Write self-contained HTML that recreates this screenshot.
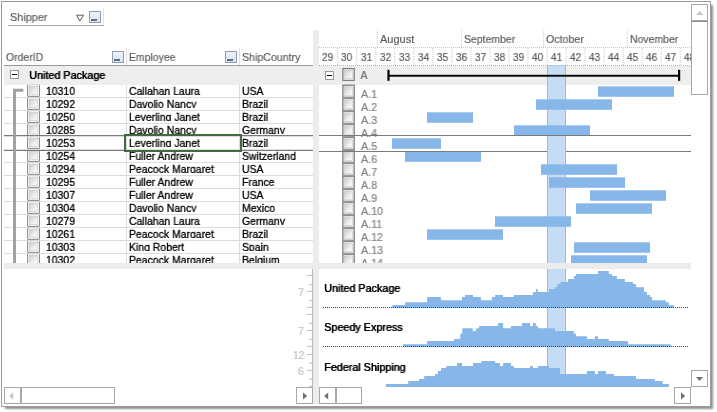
<!DOCTYPE html>
<html><head><meta charset="utf-8"><title>gantt</title>
<style>
html,body{margin:0;padding:0;background:#fff;}
body{width:717px;height:412px;overflow:hidden;position:relative;font-family:"Liberation Sans",sans-serif;font-size:11px;color:#000;}
.a{position:absolute;}
.t{position:absolute;white-space:nowrap;line-height:13px;transform-origin:0 0;transform:scaleX(.95);will-change:transform;}
.h{color:#5e5e5e;-webkit-text-stroke:0.2px #5e5e5e;}
.cb{position:absolute;width:10px;height:10px;border:1px solid #a9a9a9;background:linear-gradient(135deg,#d4d6d8 0%,#f4f4f4 70%,#fff 100%);box-shadow:inset 0 0 0 1px #f7f7f7;}
.cb2{position:absolute;width:11px;height:11px;border:1px solid #8b8b8b;background:linear-gradient(135deg,#d0d3d6 0%,#f2f2f2 70%,#fff 100%);box-shadow:inset 0 0 0 1px #f4f4f4;}
.fb{position:absolute;width:10px;height:10px;border:1px solid #919dac;background:linear-gradient(#ecf3fb,#d6e4f3);}
.fb i{position:absolute;left:1px;top:7px;width:6px;height:2px;background:#5d6f84;}
.sb{position:absolute;box-sizing:border-box;border:1px solid #a8a8a8;background:#fff;}
.cell{position:absolute;overflow:hidden;height:10px;}
.cell .t{top:0px;left:0;-webkit-text-stroke:0.3px #000;}
.fbold{transform:scaleX(.98);text-shadow:0.45px 0 0 #000,0 0 1px rgba(0,0,0,.3);}
.sep{position:absolute;height:1px;background:#dcdcdc;}
.bx{position:absolute;width:7px;height:7px;border:1px solid #979797;background:#fff;}
.bx i{position:absolute;left:1px;top:3px;width:5px;height:1px;background:#000;}
</style></head><body>

<div class="a" style="left:1px;top:1px;width:708px;height:404px;border:1px solid #9c9c9c;box-shadow:3px 3px 2px -1px rgba(0,0,0,.44);background:#fff"></div>
<div class="a" style="left:8px;top:25px;width:96px;height:1px;background:#a6a6a6"></div>
<div class="a" style="left:103px;top:8px;width:1px;height:17px;background:#e2e2e2"></div>
<div class="t h" style="left:10.4px;top:10.5px;transform:scaleX(.985)">Shipper</div>
<svg class="a" style="left:75px;top:13px" width="11" height="10"><path d="M1.6 2.2 H8.7 L4.8 8 Z" fill="none" stroke="#5a5a5a" stroke-width="1"/></svg>
<div class="fb" style="left:89px;top:11px"><i></i></div>
<div class="t h" style="left:6.4px;top:51px">OrderID</div>
<div class="fb" style="left:112px;top:51px"><i></i></div>
<div class="a" style="left:126px;top:48px;width:1px;height:17px;background:#dedede"></div>
<div class="t h" style="left:129.3px;top:51px">Employee</div>
<div class="fb" style="left:225px;top:51px"><i></i></div>
<div class="a" style="left:239px;top:48px;width:1px;height:17px;background:#dedede"></div>
<div class="t h" style="left:242.3px;top:51px;transform:scaleX(.965)">ShipCountry</div>
<div class="a" style="left:4px;top:65px;width:309px;height:1px;background:#9a9a9a"></div>
<div class="a" style="left:4px;top:66px;width:687px;height:19px;background:#eeeeee"></div>
<div class="sep" style="left:4px;top:97px;width:309px"></div>
<div class="cell" style="left:46px;top:85px;width:78px"><div class="t">10310</div></div>
<div class="cell" style="left:128.7px;top:85px;width:109px"><div class="t">Callahan Laura</div></div>
<div class="cell" style="left:241.7px;top:85px;width:70px"><div class="t">USA</div></div>
<div class="sep" style="left:4px;top:110px;width:309px"></div>
<div class="cell" style="left:46px;top:98px;width:78px"><div class="t">10292</div></div>
<div class="cell" style="left:128.7px;top:98px;width:109px"><div class="t">Davolio Nancy</div></div>
<div class="cell" style="left:241.7px;top:98px;width:70px"><div class="t">Brazil</div></div>
<div class="sep" style="left:4px;top:123px;width:309px"></div>
<div class="cell" style="left:46px;top:111px;width:78px"><div class="t">10250</div></div>
<div class="cell" style="left:128.7px;top:111px;width:109px"><div class="t">Leverling Janet</div></div>
<div class="cell" style="left:241.7px;top:111px;width:70px"><div class="t">Brazil</div></div>
<div class="sep" style="left:4px;top:136px;width:309px"></div>
<div class="cell" style="left:46px;top:124px;width:78px"><div class="t">10285</div></div>
<div class="cell" style="left:128.7px;top:124px;width:109px"><div class="t">Davolio Nancy</div></div>
<div class="cell" style="left:241.7px;top:124px;width:70px"><div class="t">Germany</div></div>
<div class="sep" style="left:4px;top:149px;width:309px"></div>
<div class="cell" style="left:46px;top:137px;width:78px"><div class="t">10253</div></div>
<div class="cell" style="left:128.7px;top:137px;width:109px"><div class="t">Leverling Janet</div></div>
<div class="cell" style="left:241.7px;top:137px;width:70px"><div class="t">Brazil</div></div>
<div class="sep" style="left:4px;top:162px;width:309px"></div>
<div class="cell" style="left:46px;top:150px;width:78px"><div class="t">10254</div></div>
<div class="cell" style="left:128.7px;top:150px;width:109px"><div class="t">Fuller Andrew</div></div>
<div class="cell" style="left:241.7px;top:150px;width:70px"><div class="t">Switzerland</div></div>
<div class="sep" style="left:4px;top:175px;width:309px"></div>
<div class="cell" style="left:46px;top:163px;width:78px"><div class="t">10294</div></div>
<div class="cell" style="left:128.7px;top:163px;width:109px"><div class="t">Peacock Margaret</div></div>
<div class="cell" style="left:241.7px;top:163px;width:70px"><div class="t">USA</div></div>
<div class="sep" style="left:4px;top:188px;width:309px"></div>
<div class="cell" style="left:46px;top:176px;width:78px"><div class="t">10295</div></div>
<div class="cell" style="left:128.7px;top:176px;width:109px"><div class="t">Fuller Andrew</div></div>
<div class="cell" style="left:241.7px;top:176px;width:70px"><div class="t">France</div></div>
<div class="sep" style="left:4px;top:201px;width:309px"></div>
<div class="cell" style="left:46px;top:189px;width:78px"><div class="t">10307</div></div>
<div class="cell" style="left:128.7px;top:189px;width:109px"><div class="t">Fuller Andrew</div></div>
<div class="cell" style="left:241.7px;top:189px;width:70px"><div class="t">USA</div></div>
<div class="sep" style="left:4px;top:214px;width:309px"></div>
<div class="cell" style="left:46px;top:202px;width:78px"><div class="t">10304</div></div>
<div class="cell" style="left:128.7px;top:202px;width:109px"><div class="t">Davolio Nancy</div></div>
<div class="cell" style="left:241.7px;top:202px;width:70px"><div class="t">Mexico</div></div>
<div class="sep" style="left:4px;top:227px;width:309px"></div>
<div class="cell" style="left:46px;top:215px;width:78px"><div class="t">10279</div></div>
<div class="cell" style="left:128.7px;top:215px;width:109px"><div class="t">Callahan Laura</div></div>
<div class="cell" style="left:241.7px;top:215px;width:70px"><div class="t">Germany</div></div>
<div class="sep" style="left:4px;top:240px;width:309px"></div>
<div class="cell" style="left:46px;top:228px;width:78px"><div class="t">10261</div></div>
<div class="cell" style="left:128.7px;top:228px;width:109px"><div class="t">Peacock Margaret</div></div>
<div class="cell" style="left:241.7px;top:228px;width:70px"><div class="t">Brazil</div></div>
<div class="sep" style="left:4px;top:253px;width:309px"></div>
<div class="cell" style="left:46px;top:241px;width:78px"><div class="t">10303</div></div>
<div class="cell" style="left:128.7px;top:241px;width:109px"><div class="t">King Robert</div></div>
<div class="cell" style="left:241.7px;top:241px;width:70px"><div class="t">Spain</div></div>
<div class="sep" style="left:4px;top:266px;width:309px"></div>
<div class="cell" style="left:46px;top:254px;width:78px"><div class="t">10302</div></div>
<div class="cell" style="left:128.7px;top:254px;width:109px"><div class="t">Peacock Margaret</div></div>
<div class="cell" style="left:241.7px;top:254px;width:70px"><div class="t">Belgium</div></div>
<div class="a" style="left:126px;top:85px;width:1px;height:178px;background:#dcdcdc"></div>
<div class="a" style="left:239px;top:85px;width:1px;height:178px;background:#dcdcdc"></div>
<div class="bx" style="left:10px;top:70px"><i></i></div>
<div class="t fbold" style="left:28.8px;top:68.5px;">United Package</div>
<svg class="a" style="left:0;top:0" width="717" height="412" viewBox="0 0 717 412">
<rect x="547" y="65" width="19" height="322" fill="#c6dcf4"/>
<rect x="547" y="65" width="1" height="322" fill="#a4b7d2"/><rect x="565" y="65" width="1" height="322" fill="#a4b7d2"/>
<rect x="598" y="86.3" width="76" height="10.5" fill="#87b7e9"/>
<rect x="536" y="99.3" width="76" height="10.5" fill="#87b7e9"/>
<rect x="427" y="112.3" width="46" height="10.5" fill="#87b7e9"/>
<rect x="514" y="125.3" width="76" height="10.5" fill="#87b7e9"/>
<rect x="392" y="138.3" width="49" height="10.5" fill="#87b7e9"/>
<rect x="405" y="151.3" width="76" height="10.5" fill="#87b7e9"/>
<rect x="541" y="164.3" width="76" height="10.5" fill="#87b7e9"/>
<rect x="549" y="177.3" width="76" height="10.5" fill="#87b7e9"/>
<rect x="590" y="190.3" width="76" height="10.5" fill="#87b7e9"/>
<rect x="576" y="203.3" width="76" height="10.5" fill="#87b7e9"/>
<rect x="495" y="216.3" width="76" height="10.5" fill="#87b7e9"/>
<rect x="427" y="229.3" width="76" height="10.5" fill="#87b7e9"/>
<rect x="574" y="242.3" width="76" height="10.5" fill="#87b7e9"/>
<rect x="571" y="255.3" width="76" height="7.7" fill="#87b7e9"/>
<rect x="388" y="74.8" width="292" height="1.9" fill="#000"/>
<rect x="387.4" y="69.8" width="2.2" height="11" fill="#000"/>
<rect x="678" y="69.8" width="2.2" height="11" fill="#000"/>
<path d="M392.3 308.0 V305.1 H405.1 V302.3 H427.1 V297.1 H440.9 V300.2 H462.0 V297.1 H465.1 V295.0 H473.0 V297.1 H480.9 V300.2 H492.0 V297.1 H495.1 V295.0 H503.0 V297.1 H513.9 V295.0 H533.0 V292.1 H536.1 V289.0 H537.8 V292.1 H549.1 V289.0 H555.1 V286.9 H557.2 V284.1 H560.4 V282.0 H568.1 V279.0 H573.9 V276.0 H576.0 V274.0 H598.1 V271.0 H608.8 V274.0 H611.9 V276.0 H616.9 V279.0 H624.9 V282.0 H633.0 V284.1 H636.0 V287.2 H644.0 V292.1 H647.0 V295.0 H650.0 V297.1 H652.0 V300.2 H665.8 V302.3 H668.9 V305.3 H673.9 V308.0 Z" fill="#87b7e9"/>
<path d="M403.0 347.0 V344.3 H427.1 V341.0 H453.9 V339.0 H460.2 V333.8 H462.3 V328.2 H472.7 V331.0 H476.1 V328.2 H479.1 V326.1 H497.9 V323.1 H503.1 V328.2 H510.9 V326.1 H522.0 V323.1 H530.0 V326.1 H533.0 V323.1 H535.8 V326.1 H537.9 V328.2 H555.1 V331.0 H573.9 V333.8 H576.0 V336.2 H586.9 V339.0 H594.9 V336.2 H597.9 V339.0 H608.8 V341.0 H627.9 V344.3 H670.7 V347.0 Z" fill="#87b7e9"/>
<path d="M386.0 387.0 V383.9 H408.2 V381.1 H419.0 V379.0 H424.2 V376.0 H435.1 V373.9 H437.9 V371.1 H441.1 V368.0 H446.2 V365.9 H457.1 V363.0 H462.0 V365.9 H473.0 V363.0 H481.2 V361.1 H495.1 V363.0 H500.0 V365.9 H503.1 V363.0 H510.9 V365.9 H513.9 V368.0 H530.0 V365.9 H533.0 V368.0 H537.9 V365.9 H549.1 V368.0 H560.0 V373.9 H586.9 V371.1 H594.9 V373.9 H597.9 V371.1 H606.0 V373.9 H614.0 V376.0 H636.0 V379.0 H654.9 V381.1 H662.7 V383.9 H668.9 V387.0 Z" fill="#87b7e9"/>
<line x1="323" y1="307.5" x2="688" y2="307.5" stroke="#a51c1c" stroke-width="1" stroke-dasharray="1 1"/>
<line x1="323" y1="346.5" x2="688" y2="346.5" stroke="#a51c1c" stroke-width="1" stroke-dasharray="1 1"/>
<line x1="319" y1="47.5" x2="691" y2="47.5" stroke="#c9c9c9" stroke-width="1" stroke-dasharray="1 1"/>
<line x1="319" y1="65.5" x2="691" y2="65.5" stroke="#b2b2b2" stroke-width="1" stroke-dasharray="1 1"/>
<line x1="337.7" y1="48" x2="337.7" y2="65" stroke="#c9c9c9" stroke-width="1" stroke-dasharray="1 1"/>
<line x1="356.8" y1="48" x2="356.8" y2="65" stroke="#c9c9c9" stroke-width="1" stroke-dasharray="1 1"/>
<line x1="375.8" y1="48" x2="375.8" y2="65" stroke="#c9c9c9" stroke-width="1" stroke-dasharray="1 1"/>
<line x1="394.8" y1="48" x2="394.8" y2="65" stroke="#c9c9c9" stroke-width="1" stroke-dasharray="1 1"/>
<line x1="413.9" y1="48" x2="413.9" y2="65" stroke="#c9c9c9" stroke-width="1" stroke-dasharray="1 1"/>
<line x1="432.9" y1="48" x2="432.9" y2="65" stroke="#c9c9c9" stroke-width="1" stroke-dasharray="1 1"/>
<line x1="451.9" y1="48" x2="451.9" y2="65" stroke="#c9c9c9" stroke-width="1" stroke-dasharray="1 1"/>
<line x1="470.9" y1="48" x2="470.9" y2="65" stroke="#c9c9c9" stroke-width="1" stroke-dasharray="1 1"/>
<line x1="490.0" y1="48" x2="490.0" y2="65" stroke="#c9c9c9" stroke-width="1" stroke-dasharray="1 1"/>
<line x1="509.0" y1="48" x2="509.0" y2="65" stroke="#c9c9c9" stroke-width="1" stroke-dasharray="1 1"/>
<line x1="528.0" y1="48" x2="528.0" y2="65" stroke="#c9c9c9" stroke-width="1" stroke-dasharray="1 1"/>
<line x1="547.1" y1="48" x2="547.1" y2="65" stroke="#c9c9c9" stroke-width="1" stroke-dasharray="1 1"/>
<line x1="566.1" y1="48" x2="566.1" y2="65" stroke="#c9c9c9" stroke-width="1" stroke-dasharray="1 1"/>
<line x1="585.1" y1="48" x2="585.1" y2="65" stroke="#c9c9c9" stroke-width="1" stroke-dasharray="1 1"/>
<line x1="604.2" y1="48" x2="604.2" y2="65" stroke="#c9c9c9" stroke-width="1" stroke-dasharray="1 1"/>
<line x1="623.2" y1="48" x2="623.2" y2="65" stroke="#c9c9c9" stroke-width="1" stroke-dasharray="1 1"/>
<line x1="642.2" y1="48" x2="642.2" y2="65" stroke="#c9c9c9" stroke-width="1" stroke-dasharray="1 1"/>
<line x1="661.2" y1="48" x2="661.2" y2="65" stroke="#c9c9c9" stroke-width="1" stroke-dasharray="1 1"/>
<line x1="680.3" y1="48" x2="680.3" y2="65" stroke="#c9c9c9" stroke-width="1" stroke-dasharray="1 1"/>
<line x1="377.3" y1="30" x2="377.3" y2="47" stroke="#c9c9c9" stroke-width="1" stroke-dasharray="1 1"/>
<line x1="461.6" y1="30" x2="461.6" y2="47" stroke="#c9c9c9" stroke-width="1" stroke-dasharray="1 1"/>
<line x1="543.6" y1="30" x2="543.6" y2="47" stroke="#c9c9c9" stroke-width="1" stroke-dasharray="1 1"/>
<line x1="627.2" y1="30" x2="627.2" y2="47" stroke="#c9c9c9" stroke-width="1" stroke-dasharray="1 1"/>
<rect x="312" y="269" width="1.3" height="118" fill="#b9b9b9"/>
<rect x="307" y="275.1" width="5" height="1" fill="#bdbdbd"/>
<rect x="309" y="284.2" width="3" height="1" fill="#bdbdbd"/>
<rect x="307" y="290.8" width="5" height="1" fill="#bdbdbd"/>
<rect x="309" y="300" width="3" height="1" fill="#bdbdbd"/>
<rect x="307" y="306.8" width="5" height="1" fill="#bdbdbd"/>
<rect x="307" y="313.9" width="5" height="1" fill="#bdbdbd"/>
<rect x="309" y="322.9" width="3" height="1" fill="#bdbdbd"/>
<rect x="307" y="330" width="5" height="1" fill="#bdbdbd"/>
<rect x="309" y="338.8" width="3" height="1" fill="#bdbdbd"/>
<rect x="307" y="345.8" width="5" height="1" fill="#bdbdbd"/>
<rect x="307" y="353.9" width="5" height="1" fill="#bdbdbd"/>
<rect x="309" y="362.5" width="3" height="1" fill="#bdbdbd"/>
<rect x="307" y="369.8" width="5" height="1" fill="#bdbdbd"/>
<rect x="309" y="378.5" width="3" height="1" fill="#bdbdbd"/>
<rect x="309" y="385.8" width="3" height="1" fill="#bdbdbd"/>
</svg>
<svg class="a" style="left:0;top:0" width="717" height="412" viewBox="0 0 717 412">
<defs><linearGradient id="g" x1="0" y1="0" x2="1" y2="1"><stop offset="0" stop-color="#c6cacf"/><stop offset=".6" stop-color="#eeeff0"/><stop offset="1" stop-color="#fdfdfd"/></linearGradient></defs>
<rect x="27.2" y="84.4" width="12.7" height="12.4" fill="#fff"/>
<path d="M27.65 84.8 V96.35 H39.45 V84.8" fill="none" stroke="#828282" stroke-width="1"/>
<path d="M27.2 84.82 H39.9" fill="none" stroke="#c6c6c6" stroke-width=".85"/>
<rect x="29.3" y="86.4" width="8.5" height="8.2" fill="url(#g)" stroke="#c3c7cb" stroke-width=".6"/>
<rect x="342.3" y="84.6" width="12.5" height="13.3" fill="#fff"/>
<rect x="342.9" y="85.2" width="11.3" height="12.1" fill="none" stroke="#7c7c7c" stroke-width="1.3"/>
<rect x="344.5" y="86.85" width="8.1" height="8.8" fill="url(#g)" stroke="#b9bdc1" stroke-width=".5"/>
<rect x="27.2" y="97.4" width="12.7" height="12.4" fill="#fff"/>
<path d="M27.65 97.8 V109.35 H39.45 V97.8" fill="none" stroke="#828282" stroke-width="1"/>
<path d="M27.2 97.82 H39.9" fill="none" stroke="#c6c6c6" stroke-width=".85"/>
<rect x="29.3" y="99.4" width="8.5" height="8.2" fill="url(#g)" stroke="#c3c7cb" stroke-width=".6"/>
<rect x="342.3" y="97.6" width="12.5" height="13.3" fill="#fff"/>
<rect x="342.9" y="98.2" width="11.3" height="12.1" fill="none" stroke="#7c7c7c" stroke-width="1.3"/>
<rect x="344.5" y="99.85" width="8.1" height="8.8" fill="url(#g)" stroke="#b9bdc1" stroke-width=".5"/>
<rect x="27.2" y="110.4" width="12.7" height="12.4" fill="#fff"/>
<path d="M27.65 110.8 V122.35 H39.45 V110.8" fill="none" stroke="#828282" stroke-width="1"/>
<path d="M27.2 110.82 H39.9" fill="none" stroke="#c6c6c6" stroke-width=".85"/>
<rect x="29.3" y="112.4" width="8.5" height="8.2" fill="url(#g)" stroke="#c3c7cb" stroke-width=".6"/>
<rect x="342.3" y="110.6" width="12.5" height="13.3" fill="#fff"/>
<rect x="342.9" y="111.2" width="11.3" height="12.1" fill="none" stroke="#7c7c7c" stroke-width="1.3"/>
<rect x="344.5" y="112.85" width="8.1" height="8.8" fill="url(#g)" stroke="#b9bdc1" stroke-width=".5"/>
<rect x="27.2" y="123.4" width="12.7" height="12.4" fill="#fff"/>
<path d="M27.65 123.8 V135.35 H39.45 V123.8" fill="none" stroke="#828282" stroke-width="1"/>
<path d="M27.2 123.82 H39.9" fill="none" stroke="#c6c6c6" stroke-width=".85"/>
<rect x="29.3" y="125.4" width="8.5" height="8.2" fill="url(#g)" stroke="#c3c7cb" stroke-width=".6"/>
<rect x="342.3" y="123.6" width="12.5" height="13.3" fill="#fff"/>
<rect x="342.9" y="124.2" width="11.3" height="12.1" fill="none" stroke="#7c7c7c" stroke-width="1.3"/>
<rect x="344.5" y="125.85" width="8.1" height="8.8" fill="url(#g)" stroke="#b9bdc1" stroke-width=".5"/>
<rect x="27.2" y="136.4" width="12.7" height="12.4" fill="#fff"/>
<path d="M27.65 136.8 V148.35 H39.45 V136.8" fill="none" stroke="#828282" stroke-width="1"/>
<path d="M27.2 136.82 H39.9" fill="none" stroke="#c6c6c6" stroke-width=".85"/>
<rect x="29.3" y="138.4" width="8.5" height="8.2" fill="url(#g)" stroke="#c3c7cb" stroke-width=".6"/>
<rect x="342.3" y="136.6" width="12.5" height="13.3" fill="#fff"/>
<rect x="342.9" y="137.2" width="11.3" height="12.1" fill="none" stroke="#7c7c7c" stroke-width="1.3"/>
<rect x="344.5" y="138.85" width="8.1" height="8.8" fill="url(#g)" stroke="#b9bdc1" stroke-width=".5"/>
<rect x="27.2" y="149.4" width="12.7" height="12.4" fill="#fff"/>
<path d="M27.65 149.8 V161.35 H39.45 V149.8" fill="none" stroke="#828282" stroke-width="1"/>
<path d="M27.2 149.82 H39.9" fill="none" stroke="#c6c6c6" stroke-width=".85"/>
<rect x="29.3" y="151.4" width="8.5" height="8.2" fill="url(#g)" stroke="#c3c7cb" stroke-width=".6"/>
<rect x="342.3" y="149.6" width="12.5" height="13.3" fill="#fff"/>
<rect x="342.9" y="150.2" width="11.3" height="12.1" fill="none" stroke="#7c7c7c" stroke-width="1.3"/>
<rect x="344.5" y="151.85" width="8.1" height="8.8" fill="url(#g)" stroke="#b9bdc1" stroke-width=".5"/>
<rect x="27.2" y="162.4" width="12.7" height="12.4" fill="#fff"/>
<path d="M27.65 162.8 V174.35 H39.45 V162.8" fill="none" stroke="#828282" stroke-width="1"/>
<path d="M27.2 162.82 H39.9" fill="none" stroke="#c6c6c6" stroke-width=".85"/>
<rect x="29.3" y="164.4" width="8.5" height="8.2" fill="url(#g)" stroke="#c3c7cb" stroke-width=".6"/>
<rect x="342.3" y="162.6" width="12.5" height="13.3" fill="#fff"/>
<rect x="342.9" y="163.2" width="11.3" height="12.1" fill="none" stroke="#7c7c7c" stroke-width="1.3"/>
<rect x="344.5" y="164.85" width="8.1" height="8.8" fill="url(#g)" stroke="#b9bdc1" stroke-width=".5"/>
<rect x="27.2" y="175.4" width="12.7" height="12.4" fill="#fff"/>
<path d="M27.65 175.8 V187.35 H39.45 V175.8" fill="none" stroke="#828282" stroke-width="1"/>
<path d="M27.2 175.82 H39.9" fill="none" stroke="#c6c6c6" stroke-width=".85"/>
<rect x="29.3" y="177.4" width="8.5" height="8.2" fill="url(#g)" stroke="#c3c7cb" stroke-width=".6"/>
<rect x="342.3" y="175.6" width="12.5" height="13.3" fill="#fff"/>
<rect x="342.9" y="176.2" width="11.3" height="12.1" fill="none" stroke="#7c7c7c" stroke-width="1.3"/>
<rect x="344.5" y="177.85" width="8.1" height="8.8" fill="url(#g)" stroke="#b9bdc1" stroke-width=".5"/>
<rect x="27.2" y="188.4" width="12.7" height="12.4" fill="#fff"/>
<path d="M27.65 188.8 V200.35 H39.45 V188.8" fill="none" stroke="#828282" stroke-width="1"/>
<path d="M27.2 188.82 H39.9" fill="none" stroke="#c6c6c6" stroke-width=".85"/>
<rect x="29.3" y="190.4" width="8.5" height="8.2" fill="url(#g)" stroke="#c3c7cb" stroke-width=".6"/>
<rect x="342.3" y="188.6" width="12.5" height="13.3" fill="#fff"/>
<rect x="342.9" y="189.2" width="11.3" height="12.1" fill="none" stroke="#7c7c7c" stroke-width="1.3"/>
<rect x="344.5" y="190.85" width="8.1" height="8.8" fill="url(#g)" stroke="#b9bdc1" stroke-width=".5"/>
<rect x="27.2" y="201.4" width="12.7" height="12.4" fill="#fff"/>
<path d="M27.65 201.8 V213.35 H39.45 V201.8" fill="none" stroke="#828282" stroke-width="1"/>
<path d="M27.2 201.82 H39.9" fill="none" stroke="#c6c6c6" stroke-width=".85"/>
<rect x="29.3" y="203.4" width="8.5" height="8.2" fill="url(#g)" stroke="#c3c7cb" stroke-width=".6"/>
<rect x="342.3" y="201.6" width="12.5" height="13.3" fill="#fff"/>
<rect x="342.9" y="202.2" width="11.3" height="12.1" fill="none" stroke="#7c7c7c" stroke-width="1.3"/>
<rect x="344.5" y="203.85" width="8.1" height="8.8" fill="url(#g)" stroke="#b9bdc1" stroke-width=".5"/>
<rect x="27.2" y="214.4" width="12.7" height="12.4" fill="#fff"/>
<path d="M27.65 214.8 V226.35 H39.45 V214.8" fill="none" stroke="#828282" stroke-width="1"/>
<path d="M27.2 214.82 H39.9" fill="none" stroke="#c6c6c6" stroke-width=".85"/>
<rect x="29.3" y="216.4" width="8.5" height="8.2" fill="url(#g)" stroke="#c3c7cb" stroke-width=".6"/>
<rect x="342.3" y="214.6" width="12.5" height="13.3" fill="#fff"/>
<rect x="342.9" y="215.2" width="11.3" height="12.1" fill="none" stroke="#7c7c7c" stroke-width="1.3"/>
<rect x="344.5" y="216.85" width="8.1" height="8.8" fill="url(#g)" stroke="#b9bdc1" stroke-width=".5"/>
<rect x="27.2" y="227.4" width="12.7" height="12.4" fill="#fff"/>
<path d="M27.65 227.8 V239.35 H39.45 V227.8" fill="none" stroke="#828282" stroke-width="1"/>
<path d="M27.2 227.82 H39.9" fill="none" stroke="#c6c6c6" stroke-width=".85"/>
<rect x="29.3" y="229.4" width="8.5" height="8.2" fill="url(#g)" stroke="#c3c7cb" stroke-width=".6"/>
<rect x="342.3" y="227.6" width="12.5" height="13.3" fill="#fff"/>
<rect x="342.9" y="228.2" width="11.3" height="12.1" fill="none" stroke="#7c7c7c" stroke-width="1.3"/>
<rect x="344.5" y="229.85" width="8.1" height="8.8" fill="url(#g)" stroke="#b9bdc1" stroke-width=".5"/>
<rect x="27.2" y="240.4" width="12.7" height="12.4" fill="#fff"/>
<path d="M27.65 240.8 V252.35 H39.45 V240.8" fill="none" stroke="#828282" stroke-width="1"/>
<path d="M27.2 240.82 H39.9" fill="none" stroke="#c6c6c6" stroke-width=".85"/>
<rect x="29.3" y="242.4" width="8.5" height="8.2" fill="url(#g)" stroke="#c3c7cb" stroke-width=".6"/>
<rect x="342.3" y="240.6" width="12.5" height="13.3" fill="#fff"/>
<rect x="342.9" y="241.2" width="11.3" height="12.1" fill="none" stroke="#7c7c7c" stroke-width="1.3"/>
<rect x="344.5" y="242.85" width="8.1" height="8.8" fill="url(#g)" stroke="#b9bdc1" stroke-width=".5"/>
<rect x="27.2" y="253.4" width="12.7" height="12.4" fill="#fff"/>
<path d="M27.65 253.8 V265.35 H39.45 V253.8" fill="none" stroke="#828282" stroke-width="1"/>
<path d="M27.2 253.82 H39.9" fill="none" stroke="#c6c6c6" stroke-width=".85"/>
<rect x="29.3" y="255.4" width="8.5" height="8.2" fill="url(#g)" stroke="#c3c7cb" stroke-width=".6"/>
<rect x="342.3" y="253.6" width="12.5" height="13.3" fill="#fff"/>
<rect x="342.9" y="254.2" width="11.3" height="12.1" fill="none" stroke="#7c7c7c" stroke-width="1.3"/>
<rect x="344.5" y="255.85" width="8.1" height="8.8" fill="url(#g)" stroke="#b9bdc1" stroke-width=".5"/>
<rect x="342.3" y="68" width="12.5" height="13" fill="#fff"/>
<rect x="342.9" y="68.6" width="11.3" height="11.8" fill="none" stroke="#7c7c7c" stroke-width="1.3"/>
<rect x="344.5" y="70.25" width="8.1" height="8.5" fill="url(#g)" stroke="#b9bdc1" stroke-width=".5"/>
<rect x="4" y="135" width="309" height="1" fill="#7a7a7a"/><rect x="4" y="150" width="309" height="1" fill="#7a7a7a"/>
<rect x="319" y="135" width="372" height="1" fill="#7a7a7a"/>
<rect x="319" y="151" width="228" height="1" fill="#7a7a7a"/><rect x="566" y="151" width="125" height="1" fill="#7a7a7a"/>
<path d="M14.5 263 V90.3 H23.4" fill="none" stroke="#a0a0a0" stroke-width="2.9"/>
</svg>
<div class="a" style="left:124px;top:134px;width:114px;height:14px;border:2px solid #3f6b3f"></div>
<div class="a" style="left:313px;top:30px;width:6px;height:374px;background:#ececec"></div>
<div class="a" style="left:4px;top:263px;width:687px;height:6px;background:#ececec"></div>
<div class="a" style="left:313px;top:66px;width:6px;height:19px;background:#eeeeee"></div>
<div class="t h" style="left:379.9px;top:33px;transform:scaleX(1)">August</div>
<div class="t h" style="left:464.2px;top:33px;transform:scaleX(0.95)">September</div>
<div class="t h" style="left:546.2px;top:33px;transform:scaleX(0.968)">October</div>
<div class="t h" style="left:629.8px;top:33px;transform:scaleX(0.951)">November</div>
<div class="t h" style="left:318.4px;top:50.5px;width:19px;text-align:center;transform-origin:50% 0;transform:scaleX(.93)">29</div>
<div class="t h" style="left:337.4px;top:50.5px;width:19px;text-align:center;transform-origin:50% 0;transform:scaleX(.93)">30</div>
<div class="t h" style="left:356.5px;top:50.5px;width:19px;text-align:center;transform-origin:50% 0;transform:scaleX(.93)">31</div>
<div class="t h" style="left:375.5px;top:50.5px;width:19px;text-align:center;transform-origin:50% 0;transform:scaleX(.93)">32</div>
<div class="t h" style="left:394.5px;top:50.5px;width:19px;text-align:center;transform-origin:50% 0;transform:scaleX(.93)">33</div>
<div class="t h" style="left:413.6px;top:50.5px;width:19px;text-align:center;transform-origin:50% 0;transform:scaleX(.93)">34</div>
<div class="t h" style="left:432.6px;top:50.5px;width:19px;text-align:center;transform-origin:50% 0;transform:scaleX(.93)">35</div>
<div class="t h" style="left:451.6px;top:50.5px;width:19px;text-align:center;transform-origin:50% 0;transform:scaleX(.93)">36</div>
<div class="t h" style="left:470.6px;top:50.5px;width:19px;text-align:center;transform-origin:50% 0;transform:scaleX(.93)">37</div>
<div class="t h" style="left:489.7px;top:50.5px;width:19px;text-align:center;transform-origin:50% 0;transform:scaleX(.93)">38</div>
<div class="t h" style="left:508.7px;top:50.5px;width:19px;text-align:center;transform-origin:50% 0;transform:scaleX(.93)">39</div>
<div class="t h" style="left:527.7px;top:50.5px;width:19px;text-align:center;transform-origin:50% 0;transform:scaleX(.93)">40</div>
<div class="t h" style="left:546.8px;top:50.5px;width:19px;text-align:center;transform-origin:50% 0;transform:scaleX(.93)">41</div>
<div class="t h" style="left:565.8px;top:50.5px;width:19px;text-align:center;transform-origin:50% 0;transform:scaleX(.93)">42</div>
<div class="t h" style="left:584.8px;top:50.5px;width:19px;text-align:center;transform-origin:50% 0;transform:scaleX(.93)">43</div>
<div class="t h" style="left:603.9px;top:50.5px;width:19px;text-align:center;transform-origin:50% 0;transform:scaleX(.93)">44</div>
<div class="t h" style="left:622.9px;top:50.5px;width:19px;text-align:center;transform-origin:50% 0;transform:scaleX(.93)">45</div>
<div class="t h" style="left:641.9px;top:50.5px;width:19px;text-align:center;transform-origin:50% 0;transform:scaleX(.93)">46</div>
<div class="t h" style="left:660.9px;top:50.5px;width:19px;text-align:center;transform-origin:50% 0;transform:scaleX(.93)">47</div>
<div class="t h" style="left:680.0px;top:50.5px;width:19px;text-align:center;transform-origin:50% 0;transform:scaleX(.93)">48</div>
<div class="a" style="left:691px;top:2px;width:19px;height:402px;background:#fff"></div>
<div class="bx" style="left:325px;top:71px"><i></i></div>
<div class="t" style="left:360.3px;top:69px;font-weight:bold;color:#80858a">A</div>
<div class="t" style="left:360.8px;top:87.5px;color:#828282;-webkit-text-stroke:.2px #828282;transform:scaleX(.97)">A.1</div>
<div class="t" style="left:360.8px;top:100.5px;color:#828282;-webkit-text-stroke:.2px #828282;transform:scaleX(.97)">A.2</div>
<div class="t" style="left:360.8px;top:113.5px;color:#828282;-webkit-text-stroke:.2px #828282;transform:scaleX(.97)">A.3</div>
<div class="t" style="left:360.8px;top:126.5px;color:#828282;-webkit-text-stroke:.2px #828282;transform:scaleX(.97)">A.4</div>
<div class="t" style="left:360.8px;top:139.5px;color:#828282;-webkit-text-stroke:.2px #828282;transform:scaleX(.97)">A.5</div>
<div class="t" style="left:360.8px;top:152.5px;color:#828282;-webkit-text-stroke:.2px #828282;transform:scaleX(.97)">A.6</div>
<div class="t" style="left:360.8px;top:165.5px;color:#828282;-webkit-text-stroke:.2px #828282;transform:scaleX(.97)">A.7</div>
<div class="t" style="left:360.8px;top:178.5px;color:#828282;-webkit-text-stroke:.2px #828282;transform:scaleX(.97)">A.8</div>
<div class="t" style="left:360.8px;top:191.5px;color:#828282;-webkit-text-stroke:.2px #828282;transform:scaleX(.97)">A.9</div>
<div class="t" style="left:360.8px;top:204.5px;color:#828282;-webkit-text-stroke:.2px #828282;transform:scaleX(.97)">A.10</div>
<div class="t" style="left:360.8px;top:217.5px;color:#828282;-webkit-text-stroke:.2px #828282;transform:scaleX(.97)">A.11</div>
<div class="t" style="left:360.8px;top:230.5px;color:#828282;-webkit-text-stroke:.2px #828282;transform:scaleX(.97)">A.12</div>
<div class="t" style="left:360.8px;top:243.5px;color:#828282;-webkit-text-stroke:.2px #828282;transform:scaleX(.97)">A.13</div>
<div class="t" style="left:360.8px;top:256.5px;color:#828282;-webkit-text-stroke:.2px #828282;transform:scaleX(.97)">A.14</div>
<div class="a" style="left:319px;top:263px;width:372px;height:6px;background:#ececec"></div>
<div class="a" style="left:319px;top:269px;width:228px;height:8px;background:#fff"></div>
<div class="t fbold" style="left:324px;top:281.5px;">United Package</div>
<div class="t fbold" style="left:324px;top:320.7px;">Speedy Express</div>
<div class="t fbold" style="left:324px;top:360.7px;">Federal Shipping</div>
<div class="t" style="left:298.3px;top:285.5px;color:#c2c3c5;-webkit-text-stroke:.2px #c2c3c5">7</div>
<div class="t" style="left:298.3px;top:324.5px;color:#c2c3c5;-webkit-text-stroke:.2px #c2c3c5">7</div>
<div class="t" style="left:292.6px;top:348.5px;color:#c2c3c5;-webkit-text-stroke:.2px #c2c3c5">12</div>
<div class="t" style="left:298.0px;top:364.5px;color:#c2c3c5;-webkit-text-stroke:.2px #c2c3c5">6</div>
<div class="sb" style="left:4px;top:387px;width:17px;height:17px"><svg width="15" height="15" style="position:absolute;left:0;top:0"><path d="M8.2 4.4 L8.2 11.4 L4.1 7.9 Z" fill="#c4c4c4"/></svg></div>
<div class="sb" style="left:21px;top:387px;width:94px;height:17px"></div>
<div class="sb" style="left:296px;top:387px;width:17px;height:17px"><svg width="15" height="15" style="position:absolute;left:0;top:0"><path d="M6 4.3 L6 11.5 L10.2 7.9 Z" fill="#707070"/></svg></div>
<div class="sb" style="left:319px;top:387px;width:17px;height:17px"><svg width="15" height="15" style="position:absolute;left:0;top:0"><path d="M8.2 4.4 L8.2 11.4 L4.1 7.9 Z" fill="#707070"/></svg></div>
<div class="sb" style="left:336px;top:387px;width:26px;height:17px"></div>
<div class="sb" style="left:674px;top:387px;width:17px;height:17px"><svg width="15" height="15" style="position:absolute;left:0;top:0"><path d="M6 4.3 L6 11.5 L10.2 7.9 Z" fill="#707070"/></svg></div>
<div class="sb" style="left:691px;top:4px;width:17px;height:17px"><svg width="15" height="15" style="position:absolute;left:0;top:0"><path d="M4.1 10 L11.3 10 L7.7 6 Z" fill="#c4c4c4"/></svg></div>
<div class="sb" style="left:691px;top:21px;width:17px;height:74px;border-top-color:#8e8e8e"></div>
<div class="sb" style="left:691px;top:370px;width:17px;height:17px"><svg width="15" height="15" style="position:absolute;left:0;top:0"><path d="M4 6 L11 6 L7.5 9.9 Z" fill="#707070"/></svg></div>
</body></html>
